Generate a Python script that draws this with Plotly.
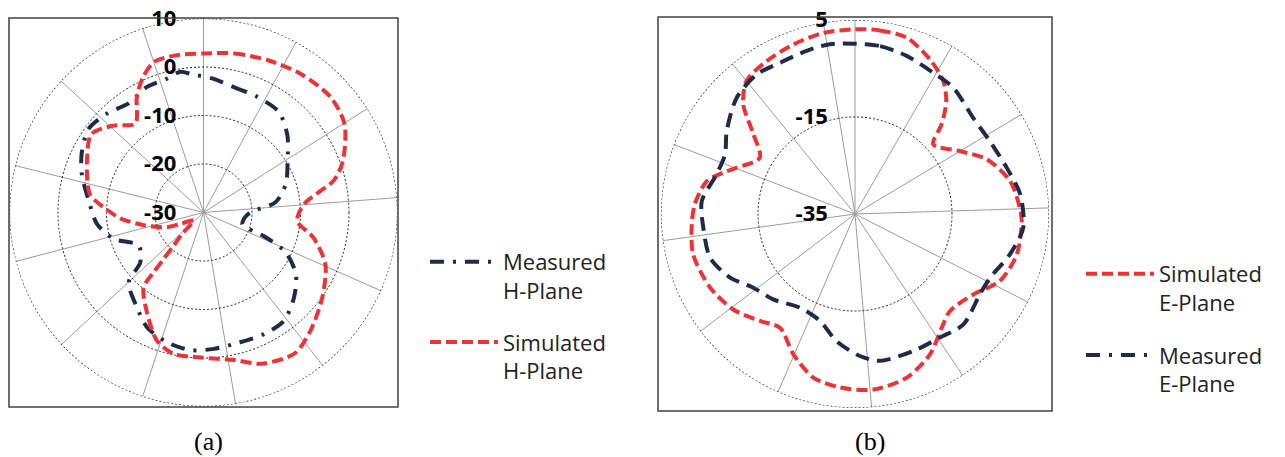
import plotly.graph_objects as go

# ---- (a) H-plane pattern, dB vs angle (deg, clockwise from top) ----
h_meas_theta = [3.7, 13.6, 25, 36.9, 47.4, 58.2, 70.7, 81.9, 89.6, 98, 107, 111.7, 115.8,
                123.7, 133.2, 143.4, 153.6, 164.8, 175.7, 185.4, 195.6, 206.1, 215, 227,
                231.7, 243, 253.7, 263.9, 276, 287, 295.8, 306.1, 315.7, 325.5, 335.8,
                344.8, 350.7, 355.3]
h_meas_db = [-2.3, -3.4, -3.7, -4.1, -6.5, -9.6, -12.0, -15.0, -20.3, -21.5, -21.6, -16.2,
             -11.2, -7.1, -4.4, -2.2, -2.0, -2.2, -1.8, -1.5, -2.2, -3.6, -6.1, -8.9, -13.4,
             -15.0, -10.7, -7.9, -6.2, -3.8, -2.1, -0.7, -1.5, -2.7, -1.6, -1.4, -0.6, -1.4]

h_sim_theta = [0, 11, 23, 35, 48, 58, 69.5, 76, 85, 95, 103, 113, 125.5, 138, 147, 159, 168,
               181, 192, 200, 209, 218.6, 219.8, 220.6, 222, 225, 230.5, 244, 248, 258, 266,
               273, 279, 294, 305, 314, 322.5, 330, 336, 342, 350.5]
h_sim_db = [2.8, 3.4, 4.1, 4.9, 5.4, 4.3, 0.7, -2.2, -9.1, -10.6, -6.7, -2.7, 0.1, 2.9, 4.6,
            3.4, 1.1, -0.1, -0.2, -1.9, -6.1, -10.2, -14.0, -17.4, -20.8, -23.8, -27.4, -24.7,
            -21.9, -17.4, -12.8, -9.4, -6.3, -3.7, -1.8, -4.2, -6.9, -2.5, 0.6, 2.7, 2.9]

# ---- (b) E-plane pattern ----
e_sim_theta = [0, 7.7, 16.3, 25.9, 33.6, 39, 44, 48.3, 59, 67.4, 78, 87.8, 92.4, 104, 114.8,
               124.2, 135.6, 142.7, 151.9, 162.5, 174, 185, 194.3, 203.7, 213.4, 221.6, 231.9,
               243.1, 256, 265.2, 273.5, 282.5, 287.4, 291.4, 300.6, 308.1, 314.5, 320.8, 330,
               340, 350.1]
e_sim_db = [3.1, 3.2, 2.9, 0.4, -2.1, -5.1, -9.3, -13.4, -9.8, -5.6, -2.3, -1.0, -0.6, -0.6,
            -2.1, -5.5, -7.0, -5.5, -2.2, 0.4, 1.4, 0.9, -0.2, -3.4, -6.9, -5.5, -3.1, -1.5,
            -0.6, -1.2, -1.9, -3.7, -6.5, -8.8, -12.2, -8.4, -2.7, 0.4, 1.4, 2.2, 2.9]

e_meas_theta = [0, 8.5, 18.1, 29, 37.9, 50.9, 61.6, 73, 83.2, 94.7, 104.6, 115.3, 122.7,
                135.5, 145.5, 156.9, 170.3, 178, 188.2, 198.1, 210.4, 223.8, 234.1, 243,
                253.2, 264.8, 274.8, 286, 294.7, 302.9, 314.5, 324.9, 333.6, 343.5, 351.6]
e_meas_db = [0.1, 0.0, -0.7, -1.7, -2.0, -3.6, -3.4, -2.3, -0.7, -0.2, -2.0, -4.2, -4.4, -3.1,
             -4.1, -4.3, -4.3, -5.7, -8.5, -11.8, -12.6, -10.6, -9.1, -6.1, -3.8, -3.6, -3.3,
             -5.3, -5.5, -3.5, -0.8, 0.2, -0.2, 0.1, 0.4]

# radial ticks and angular gridline (spoke) positions
a_ticks = [-30, -20, -10, 0, 10]
b_ticks = [-35, -15, 5]
a_spokes = [0, 28.5, 57.6, 85.6, 113.8, 142.1, 170.5, 198.3, 227.1, 255.4, 284, 312.7, 341.7]
b_spokes = [0, 30, 59.1, 88.2, 117, 146.3, 175.1, 203.4, 232.8, 262.1, 291, 320.8, 350.6]

RED = "#EE3236"
NAVY = "#1E2C4A"
GRID_DOT = "2px,2px"
W, H = 1285, 457


def closed(seq):
    return list(seq) + [seq[0]]


fig = go.Figure()

# dotted outer ring of each chart (the radial grid stops short of the rim)
ring_theta = list(range(0, 361, 2))
for sub, top in (("polar", a_ticks[-1]), ("polar2", b_ticks[-1])):
    fig.add_trace(go.Scatterpolar(
        r=[top] * len(ring_theta), theta=ring_theta, mode="lines", subplot=sub,
        showlegend=False, hoverinfo="skip",
        line=dict(color="#222222", width=1.2, dash=GRID_DOT)))

# (a) traces -> legend
fig.add_trace(go.Scatterpolar(
    r=closed(h_meas_db), theta=closed(h_meas_theta), mode="lines", subplot="polar",
    name="Measured<br>H-Plane", legend="legend", legendgroup="a1",
    line=dict(color=NAVY, width=4, dash="14px,9px,3px,9px", shape="spline", smoothing=0.8)))
fig.add_trace(go.Scatterpolar(
    r=closed(h_sim_db), theta=closed(h_sim_theta), mode="lines", subplot="polar",
    name="Simulated<br>H-Plane", legend="legend", legendgroup="a2",
    line=dict(color=RED, width=4, dash="11px,5px", shape="spline", smoothing=0.8)))

# (b) traces -> legend2
fig.add_trace(go.Scatterpolar(
    r=closed(e_sim_db), theta=closed(e_sim_theta), mode="lines", subplot="polar2",
    name="Simulated<br>E-Plane", legend="legend2", legendgroup="b1",
    line=dict(color=RED, width=4, dash="11px,5px", shape="spline", smoothing=0.8)))
fig.add_trace(go.Scatterpolar(
    r=closed(e_meas_db), theta=closed(e_meas_theta), mode="lines", subplot="polar2",
    name="Measured<br>E-Plane", legend="legend2", legendgroup="b2", showlegend=False,
    line=dict(color=NAVY, width=4, dash="14px,8px", shape="spline", smoothing=0.8)))
# legend key for the measured E-plane series
fig.add_trace(go.Scatterpolar(
    r=[None], theta=[None], mode="lines", subplot="polar2",
    name="Measured<br>E-Plane", legend="legend2", legendgroup="b2",
    line=dict(color=NAVY, width=4, dash="14px,9px,3px,9px")))


def polar(cx, cy, half, rng, ticks, spokes):
    return dict(
        domain=dict(x=[(cx - half) / W, (cx + half) / W],
                    y=[1 - (cy + half) / H, 1 - (cy - half) / H]),
        bgcolor="white",
        radialaxis=dict(
            range=rng, tickvals=ticks, ticktext=[str(t) for t in ticks],
            angle=90, side="counterclockwise", tickangle=90,
            showline=False, showgrid=True, gridcolor="#222222", griddash=GRID_DOT,
            gridwidth=1.2,
            ticks="outside", ticklen=19, tickcolor="rgba(0,0,0,0)",
            tickfont=dict(family="Open Sans", size=22, color="black", weight="bold"),
            layer="above traces"),
        angularaxis=dict(
            direction="clockwise", rotation=90, tickvals=spokes, showticklabels=False,
            ticks="", showgrid=True, gridcolor="#9c9c9c", gridwidth=1.1, showline=False,
            layer="below traces"),
    )


legend_font = dict(family="Open Sans", size=22, color="#222222")

fig.update_layout(
    width=W, height=H,
    margin=dict(l=0, r=0, t=0, b=0),
    paper_bgcolor="white",
    plot_bgcolor="white",
    polar=polar(203.5, 212.5, 194, [-30, 10], a_ticks, a_spokes),
    polar2=polar(855, 214, 194, [-35, 5], b_ticks, b_spokes),
    legend=dict(x=425 / W, y=1 - 241 / H, xanchor="left", yanchor="top",
                font=legend_font, bgcolor="rgba(0,0,0,0)", itemwidth=68,
                valign="top", tracegroupgap=20),
    legend2=dict(x=1081 / W, y=1 - 253 / H, xanchor="left", yanchor="top",
                 font=legend_font, bgcolor="rgba(0,0,0,0)", itemwidth=68,
                 valign="top", tracegroupgap=21),
    shapes=[
        dict(type="rect", xref="paper", yref="paper", x0=9 / W, x1=398 / W,
             y0=1 - 407 / H, y1=1 - 18 / H, line=dict(color="#404040", width=1.5)),
        dict(type="rect", xref="paper", yref="paper", x0=658 / W, x1=1052 / W,
             y0=1 - 411 / H, y1=1 - 17 / H, line=dict(color="#404040", width=1.5)),
    ],
    annotations=[
        dict(text="(a)", x=208 / W, y=1 - 441 / H, xref="paper", yref="paper",
             xanchor="center", yanchor="middle", showarrow=False,
             font=dict(family="Liberation Serif", size=26, color="black")),
        dict(text="(b)", x=870 / W, y=1 - 441 / H, xref="paper", yref="paper",
             xanchor="center", yanchor="middle", showarrow=False,
             font=dict(family="Liberation Serif", size=26, color="black")),
    ],
)

fig.write_html("out.html")
